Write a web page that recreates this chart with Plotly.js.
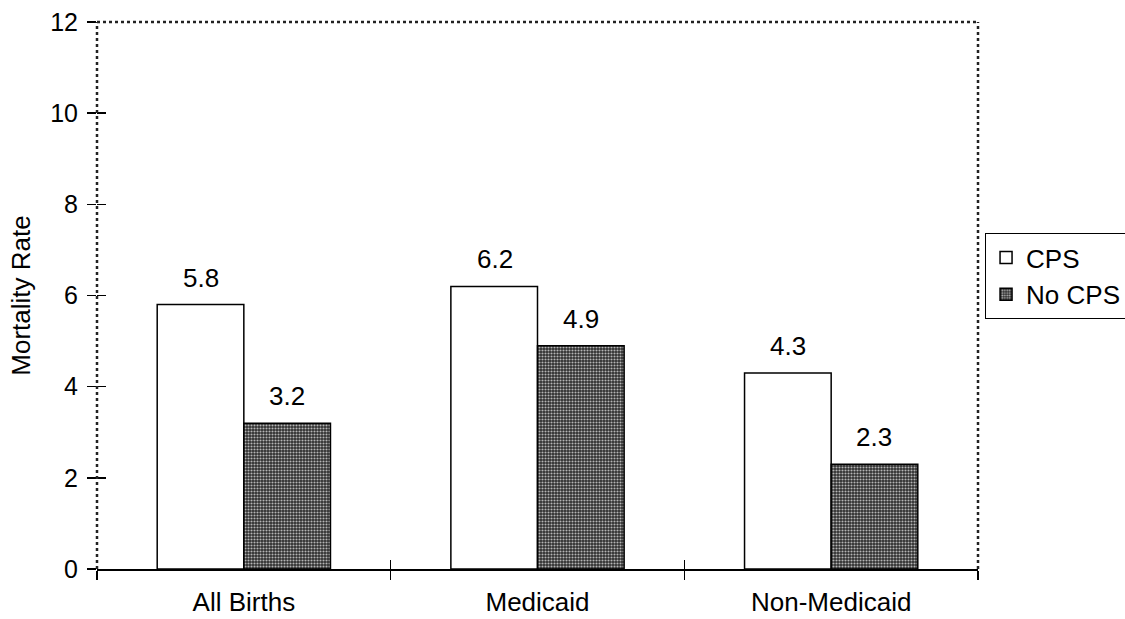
<!DOCTYPE html>
<html>
<head>
<meta charset="utf-8">
<script src="https://cdn.plot.ly/plotly-3.0.1.min.js"></script>
<style>html,body{margin:0;padding:0;background:#fff;}#chart{width:1125px;height:619px;}</style>
</head>
<body>
<div id="chart"></div>
<script>
const categories = ["All Births", "Medicaid", "Non-Medicaid"];
const cpsValues = [5.8, 6.2, 4.3];
const noCpsValues = [3.2, 4.9, 2.3];
const seriesNames = ["CPS", "No CPS"];
const yTicks = [0, 2, 4, 6, 8, 10, 12];

const font = {family: "Arial, Liberation Sans, sans-serif", color: "#000"};

const traces = [
  {
    type: "bar", name: seriesNames[0], x: categories, y: cpsValues,
    marker: {color: "#fff", line: {color: "#000", width: 1.5}},
    hoverinfo: "none"
  },
  {
    type: "bar", name: seriesNames[1], x: categories, y: noCpsValues,
    marker: {color: "#2e2e2e", line: {color: "#000", width: 1.5},
      pattern: {shape: ".", bgcolor: "#2e2e2e", fgcolor: "#b5b5b5", size: 3, solidity: 0.4, fillmode: "replace"}},
    hoverinfo: "none"
  },
  // invisible trace to host inward tick marks on overlay axes
  {type: "scatter", x: categories, y: cpsValues, xaxis: "x2", yaxis: "y2", mode: "none", showlegend: false, hoverinfo: "none"}
];

const annotations = [];
[cpsValues, noCpsValues].forEach((vals, s) => {
  vals.forEach((v, i) => {
    annotations.push({
      x: categories[i], y: v, xref: "x", yref: "y",
      text: v.toFixed(1), showarrow: false,
      xshift: s === 0 ? -43 : 43, yanchor: "bottom", yshift: 10,
      font: {...font, size: 26}
    });
  });
});

const layout = {
  width: 1125, height: 619,
  margin: {l: 97, r: 147, t: 22, b: 50},
  paper_bgcolor: "#fff", plot_bgcolor: "#fff",
  font: font,
  barmode: "group", bargap: 0.41, bargroupgap: 0,
  showlegend: true,
  legend: {
    xref: "container", yref: "container",
    x: 0.8756, xanchor: "left", y: 0.554, yanchor: "middle",
    bordercolor: "#000", borderwidth: 1, bgcolor: "#fff",
    font: {...font, size: 26}, itemwidth: 30, tracegroupgap: 0
  },
  xaxis: {
    type: "category", tickson: "boundaries", ticks: "outside", ticklen: 9, tickcolor: "#000", tickwidth: 1.5,
    showline: true, linecolor: "#000", linewidth: 1.5, showgrid: false,
    tickfont: {...font, size: 26}, range: [-0.5, 2.5], ticklabelstandoff: 9
  },
  yaxis: {
    range: [0, 12], tickvals: yTicks, ticks: "outside", ticklen: 9, tickcolor: "#000", tickwidth: 1.5,
    showline: false, showgrid: false, zeroline: false,
    tickfont: {...font, size: 25}, ticklabelstandoff: 4,
    title: {text: "Mortality Rate", font: {...font, size: 26}, standoff: 12}
  },
  xaxis2: {
    type: "category", overlaying: "x", tickson: "boundaries", ticks: "inside", ticklen: 9, tickcolor: "#000", tickwidth: 1.5,
    showticklabels: false, showline: false, showgrid: false, range: [-0.5, 2.5], categoryarray: categories, categoryorder: "array"
  },
  yaxis2: {
    overlaying: "y", range: [0, 12], tickvals: yTicks, ticks: "inside", ticklen: 9, tickcolor: "#000", tickwidth: 1.5,
    showticklabels: false, showline: false, showgrid: false, zeroline: false
  },
  shapes: [
    {type: "line", xref: "paper", yref: "paper", x0: 0, x1: 1, y0: 1, y1: 1, line: {color: "#222", width: 2.5, dash: "dot"}},
    {type: "line", xref: "paper", yref: "paper", x0: 1, x1: 1, y0: 0, y1: 1, line: {color: "#222", width: 2.5, dash: "dot"}},
    {type: "line", xref: "paper", yref: "paper", x0: 0, x1: 0, y0: 0, y1: 1, line: {color: "#222", width: 2.5, dash: "dot"}}
  ],
  annotations: annotations
};

Plotly.newPlot("chart", traces, layout, {displayModeBar: false, staticPlot: true});
</script>
</body>
</html>
